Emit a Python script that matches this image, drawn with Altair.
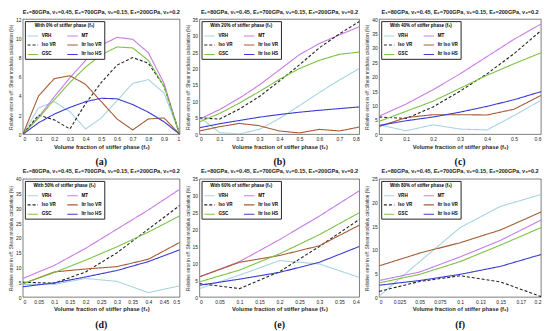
import altair as alt
import pandas as pd

series = ["VRH", "MT", "Iso VR", "Itr Iso VR", "GSC", "Itr Iso HS"]
# legend domain in column-major order so rows read: VRH|MT, Iso VR|Itr Iso VR, GSC|Itr Iso HS
legend_order = ["VRH", "Iso VR", "GSC", "MT", "Itr Iso VR", "Itr Iso HS"]
colors = ["#a8d4e2", "#222222", "#7cc444", "#c97be8", "#a65c35", "#3b3bd2"]
dashes = [[1, 0], [3, 2], [1, 0], [1, 0], [1, 0], [1, 0]]
widths = [1.1, 1.1, 1.1, 1.1, 1.1, 1.6]

TITLE = "E\u2081=80GPa, \u03bd\u2081=0.45, E\u2082=700GPa, \u03bd\u2082=0.15, E\u2083=200GPa, \u03bd\u2083=0.2"
XTITLE = "Volume fraction of stiffer phase (f\u2082)"
YTITLE = "Relative error in eff. Shear modulus calculation (%)"

# ---- panel (a): 0% stiffer phase
xa = [0, 0.1, 0.2, 0.3, 0.4, 0.5, 0.6, 0.7, 0.8, 0.9, 1.0]
a_vrh = [0, 2.75, 3.4, 2.35, 0.55, 1.7, 3.5, 5.3, 5.7, 4.3, 0]
a_mt = [0, 1.8, 3.9, 5.9, 7.7, 9.3, 10.1, 9.9, 8.5, 5.3, 0]
a_iso = [0, 2.0, 1.5, 0.55, 3.2, 5.4, 7.2, 8.0, 7.4, 5.0, 0]
a_itrvr = [0, 4.0, 5.8, 6.1, 5.2, 3.4, 1.6, 0.45, 1.6, 1.7, 0]
a_gsc = [0, 1.7, 3.6, 5.4, 7.0, 8.3, 9.1, 9.0, 7.7, 5.0, 0]
a_itrhs = [0, 1.2, 2.1, 2.8, 3.4, 3.75, 3.7, 3.1, 2.3, 1.3, 0]

# ---- panel (b): 20%
xb = [0, 0.1, 0.2, 0.3, 0.4, 0.5, 0.6, 0.7, 0.8]
b_vrh = [5.2, 0.5, 0.1, 1.5, 4.8, 8.7, 12.7, 16.5, 20.0]
b_mt = [4.6, 7.5, 11.0, 15.0, 19.6, 24.2, 27.6, 30.2, 32.7]
b_iso = [5.0, 4.6, 7.7, 11.5, 16.2, 21.1, 26.3, 30.5, 34.3]
b_itrvr = [1.0, 2.3, 3.3, 2.6, 1.0, 0.4, 1.5, 1.0, 2.2]
b_gsc = [3.8, 6.3, 9.5, 13.0, 16.7, 20.0, 22.5, 24.3, 25.0]
b_itrhs = [2.0, 3.2, 4.2, 5.2, 6.0, 6.7, 7.3, 7.8, 8.3]

# ---- panel (c): 40%
xc = [0, 0.1, 0.2, 0.3, 0.4, 0.5, 0.6]
c_vrh = [3.3, 1.2, 3.3, 1.8, 1.5, 6.5, 11.8]
c_mt = [6.3, 10.5, 15.5, 21.0, 27.0, 33.0, 38.3]
c_iso = [6.0, 5.5, 9.5, 15.0, 21.0, 28.0, 36.0]
c_itrvr = [2.7, 5.8, 6.8, 6.8, 6.7, 8.7, 13.5]
c_gsc = [4.5, 8.0, 11.5, 16.0, 20.5, 24.5, 28.3]
c_itrhs = [3.1, 4.7, 6.0, 7.7, 9.7, 12.0, 14.8]

# ---- panel (d): 50%
xd = [0, 0.1, 0.2, 0.3, 0.4, 0.5]
d_vrh = [4.3, 4.3, 6.3, 5.3, 1.5, 3.8]
d_mt = [6.3, 10.7, 16.5, 23.0, 29.5, 36.5]
d_iso = [5.0, 4.7, 8.5, 15.0, 23.0, 31.0]
d_itrvr = [4.5, 8.5, 9.5, 10.3, 12.8, 18.5]
d_gsc = [4.5, 8.3, 12.5, 17.0, 22.0, 27.5]
d_itrhs = [3.5, 4.8, 6.8, 9.0, 12.0, 16.0]

# ---- panel (e): 60%
xe = [0, 0.1, 0.2, 0.3, 0.4]
e_vrh = [2.5, 6.5, 10.8, 9.8, 5.8]
e_mt = [6.0, 10.5, 17.0, 24.0, 31.5]
e_iso = [4.0, 2.5, 7.5, 15.0, 23.0]
e_itrvr = [6.0, 10.3, 12.3, 15.2, 21.3]
e_gsc = [4.5, 8.0, 12.8, 18.5, 25.0]
e_itrhs = [3.5, 5.3, 7.3, 10.3, 15.0]

# ---- panel (f): 80%
xf = [0, 0.05, 0.1, 0.15, 0.2]
f_vrh = [0.2, 7.5, 14.7, 19.2, 21.7]
f_mt = [3.5, 5.3, 8.5, 12.0, 16.3]
f_iso = [1.2, 3.3, 4.5, 3.2, 0.1]
f_itrvr = [6.6, 9.3, 11.5, 14.2, 18.0]
f_gsc = [3.0, 4.8, 7.5, 11.0, 14.7]
f_itrhs = [2.5, 3.5, 4.8, 6.5, 9.0]

panels = [
    dict(tag="(a)", pct="0", x=xa, ys=[a_vrh, a_mt, a_iso, a_itrvr, a_gsc, a_itrhs],
         xmax=1.0, xstep=0.1, ymax=12, ystep=2, w=158, h=116),
    dict(tag="(b)", pct="20", x=xb, ys=[b_vrh, b_mt, b_iso, b_itrvr, b_gsc, b_itrhs],
         xmax=0.8, xstep=0.1, ymax=35, ystep=5, w=161, h=116),
    dict(tag="(c)", pct="40", x=xc, ys=[c_vrh, c_mt, c_iso, c_itrvr, c_gsc, c_itrhs],
         xmax=0.6, xstep=0.1, ymax=40, ystep=5, w=163, h=116),
    dict(tag="(d)", pct="50", x=xd, ys=[d_vrh, d_mt, d_iso, d_itrvr, d_gsc, d_itrhs],
         xmax=0.5, xstep=0.05, ymax=40, ystep=5, w=158, h=119),
    dict(tag="(e)", pct="60", x=xe, ys=[e_vrh, e_mt, e_iso, e_itrvr, e_gsc, e_itrhs],
         xmax=0.4, xstep=0.05, ymax=35, ystep=5, w=161, h=119),
    dict(tag="(f)", pct="80", x=xf, ys=[f_vrh, f_mt, f_iso, f_itrvr, f_gsc, f_itrhs],
         xmax=0.2, xstep=0.025, ymax=25, ystep=5, w=163, h=119),
]


def make_panel(p):
    rows = []
    for name, vals in zip(series, p["ys"]):
        for xv, yv in zip(p["x"], vals):
            rows.append({"x": xv, "y": yv, "s": name})
    df = pd.DataFrame(rows)
    n_x = int(round(p["xmax"] / p["xstep"]))
    xticks = [round(i * p["xstep"], 4) for i in range(n_x + 1)]
    yticks = list(range(0, p["ymax"] + 1, p["ystep"]))
    ltitle = "With %s%% of stiffer phase (f\u2083)" % p["pct"]
    leg = dict(title=ltitle, orient="top-left", columns=2, offset=2,
               strokeColor="#262626", fillColor="white", padding=2,
               labelFontSize=4.6, titleFontSize=4.6, titleFontWeight="bold",
               labelFontWeight="bold", symbolType="stroke", symbolSize=110,
               symbolStrokeWidth=1, rowPadding=0.5, columnPadding=8,
               titlePadding=2, titleAnchor="middle", labelOffset=3,
               labelFont="Liberation Sans", titleFont="Liberation Sans")
    lines = alt.Chart(df).mark_line(clip=True).encode(
        x=alt.X("x:Q", scale=alt.Scale(domain=[0, p["xmax"]], nice=False),
                axis=alt.Axis(title=XTITLE, values=xticks, format="~g")),
        y=alt.Y("y:Q", scale=alt.Scale(domain=[0, p["ymax"]], nice=False),
                axis=alt.Axis(title=YTITLE, values=yticks)),
        color=alt.Color("s:N", scale=alt.Scale(domain=legend_order, range=colors),
                        legend=alt.Legend(**leg)),
        strokeDash=alt.StrokeDash("s:N", scale=alt.Scale(domain=legend_order, range=dashes),
                                  legend=alt.Legend(**leg)),
        strokeWidth=alt.StrokeWidth("s:N", scale=alt.Scale(domain=legend_order, range=widths),
                                    legend=None),
    )
    tag = alt.Chart(pd.DataFrame({"t": [p["tag"]]})).mark_text(
        font="Liberation Serif", fontWeight="bold", fontSize=10, baseline="middle",
        color="#111111"
    ).encode(text="t:N", x=alt.value(p["w"] / 2), y=alt.value(p["h"] + 28))
    return alt.layer(lines, tag).properties(
        width=p["w"], height=p["h"],
        title=alt.TitleParams(TITLE, fontSize=5.6, fontWeight="bold", offset=2,
                              frame="group", anchor="middle", font="Liberation Sans",
                              color="#222222"),
    )


chart = alt.concat(*[make_panel(p) for p in panels], columns=3,
                   spacing={"row": 45, "column": 20}, bounds="flush").resolve_scale(
    color="independent", strokeDash="independent", strokeWidth="independent"
).resolve_legend(
    color="independent", strokeDash="independent", strokeWidth="independent"
).properties(padding=0).configure_view(
    stroke="#262626", strokeWidth=0.6
).configure_axis(
    domain=False, ticks=False, grid=False, labelFontSize=5, labelPadding=2,
    labelColor="#262626", titleColor="#262626", labelFont="Liberation Sans",
    titleFont="Liberation Sans"
).configure_axisX(
    titleFontSize=5.8, titleFontWeight="bold", titlePadding=2
).configure_axisY(
    titleFontSize=4.7, titleFontWeight="normal", titlePadding=2
)

chart.save("out.html", embed_options={"renderer": "svg", "actions": False})
